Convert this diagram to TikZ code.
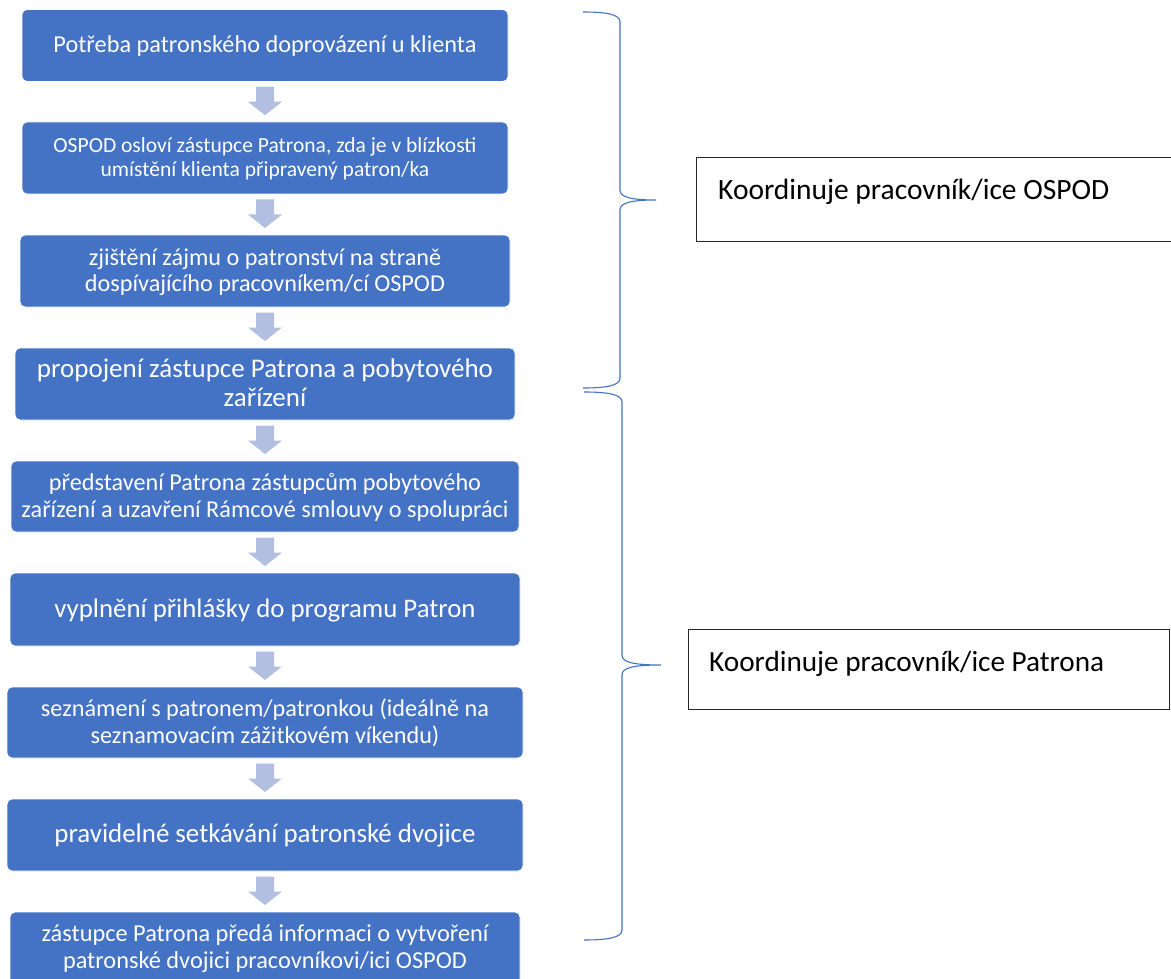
\documentclass[tikz,border=0pt]{standalone}
\usepackage{fontspec}
\setmainfont{Carlito}
\usepackage{graphicx}
\usetikzlibrary{calc}
\definecolor{boxblue}{HTML}{4472C4}
\definecolor{arrblue}{HTML}{B2BFE0}
\newcommand{\fitw}[2]{\raisebox{-2pt}[\height][\depth]{\resizebox{#1pt}{!}{\fontsize{10}{11}\selectfont\begin{tabular}{@{}c@{}}#2\end{tabular}}}}
\newcommand{\fitl}[2]{\raisebox{-2pt}[\height][\depth]{\resizebox{#1pt}{!}{\fontsize{10}{12.2}\selectfont #2}}}
\tikzset{
  stepbox/.style={rectangle, rounded corners=5pt, fill=boxblue, draw=white, line width=0.8pt, inner sep=0pt, text=white},
  blockarrow/.style={fill=arrblue, draw=none},
  notebox/.style={rectangle, draw=black!85, line width=1.3pt, fill=white, inner sep=0pt},
  notetext/.style={inner sep=0pt, anchor=west, text=black},
  bracepath/.style={draw=boxblue, line width=1.1pt}
}
\begin{document}
\begin{tikzpicture}[x=1pt,y=-1pt]
\useasboundingbox (0,0) rectangle (1171,979);
\fill[white] (0,0) rectangle (1171,979);

\node[stepbox, minimum width=486pt, minimum height=72pt] (b1) at (265,45.5)
  {\fitw{423}{Potřeba patronského doprovázení u klienta}};
\node[stepbox, minimum width=486pt, minimum height=72pt] (b2) at (265,158)
  {\fitw{423}{OSPOD osloví zástupce Patrona, zda je v blízkosti\\umístění klienta připravený patron/ka}};
\node[stepbox, minimum width=490pt, minimum height=72pt] (b3) at (265,271)
  {\fitw{360}{zjištění zájmu o patronství na straně\\dospívajícího pracovníkem/cí OSPOD}};
\node[stepbox, minimum width=500pt, minimum height=72pt] (b4) at (265,384)
  {\fitw{456}{propojení zástupce Patrona a pobytového\\zařízení}};
\node[stepbox, minimum width=508pt, minimum height=71pt] (b5) at (265,496.5)
  {\fitw{487}{představení Patrona zástupcům pobytového\\zařízení a uzavření Rámcové smlouvy o spolupráci}};
\node[stepbox, minimum width=510pt, minimum height=73pt] (b6) at (265,609.5)
  {\fitw{421}{vyplnění přihlášky do programu Patron}};
\node[stepbox, minimum width=516pt, minimum height=71pt] (b7) at (265,722.5)
  {\fitw{448}{seznámení s patronem/patronkou (ideálně na\\seznamovacím zážitkovém víkendu)}};
\node[stepbox, minimum width=516pt, minimum height=72pt] (b8) at (265,835)
  {\fitw{421}{pravidelné setkávání patronské dvojice}};
\node[stepbox, minimum width=510pt, minimum height=72pt] (b9) at (265,948)
  {\fitw{447}{zástupce Patrona předá informaci o vytvoření\\patronské dvojici pracovníkovi/ici OSPOD}};

\foreach \a/\b in {b1/b2,b2/b3,b3/b4,b4/b5,b5/b6,b6/b7,b7/b8,b8/b9}{
  \coordinate (m) at ($(\a.south)!0.5!(\b.north)$);
  \fill[blockarrow] (m) ++(-9,-15) -- ++(18,0) -- ++(0,15) -- ++(8,0)
    -- ++(-17,13.5) -- ++(-17,-13.5) -- ++(8,0) -- cycle;
}

% braces
\draw[bracepath] (583,12) .. controls (605,12) and (620,14) .. (620,22)
  -- (620,190) .. controls (620,197) and (630,200) .. (656,200)
  .. controls (630,200) and (620,203) .. (620,210)
  -- (620,378) .. controls (620,386) and (605,388) .. (583,388);
\draw[bracepath] (584,392) .. controls (606,392) and (622,394) .. (622,402)
  -- (622,655) .. controls (622,662) and (632,665) .. (661,665)
  .. controls (632,665) and (622,668) .. (622,675)
  -- (622,930) .. controls (622,938) and (606,940) .. (584,940);

% coordinator boxes
\node[notebox, minimum width=478pt, minimum height=84pt, anchor=north west] (kA) at (696,157) {};
\node[notetext] (tA) at (718,190) {\fitl{391}{Koordinuje pracovník/ice OSPOD}};
\node[notebox, minimum width=481pt, minimum height=80pt, anchor=north west] (kB) at (688,629) {};
\node[notetext] (tB) at (709,662) {\fitl{395}{Koordinuje pracovník/ice Patrona}};
\end{tikzpicture}
\end{document}
